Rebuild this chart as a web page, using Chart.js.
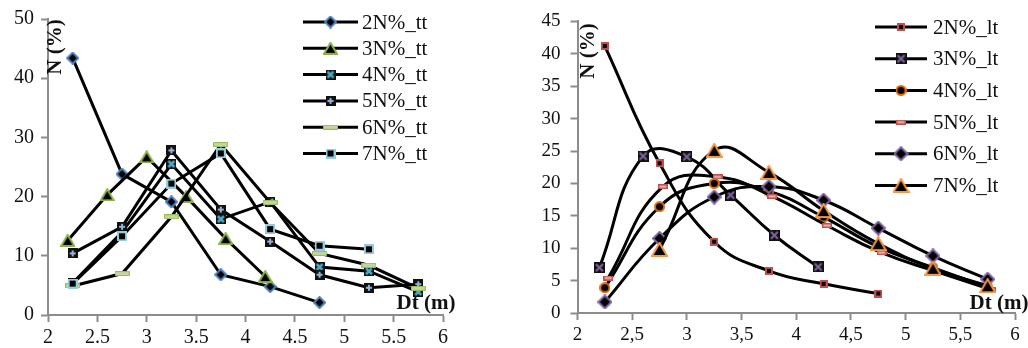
<!DOCTYPE html>
<html>
<head>
<meta charset="utf-8">
<script src="https://cdn.jsdelivr.net/npm/chart.js@4"></script>
<style>
  body { margin: 0; background: #fff; }
  #wrap { position: relative; width: 1028px; height: 348px; }
  canvas { position: absolute; top: 0; }
</style>
</head>
<body>
<div id="wrap">
  <canvas id="ttChart" width="514" height="348" style="left:0"></canvas>
  <canvas id="ltChart" width="514" height="348" style="left:514px"></canvas>
</div>
<script>
// ---- data: Dt (m) and N (%) ----
// left chart (tt)
const dt2tt = [2.25, 2.75, 3.25, 3.75, 4.25, 4.75];
const n2tt  = [43.4, 23.8, 19.1, 6.8, 4.8, 2.1];
const dt3tt = [2.2, 2.6, 3.0, 3.4, 3.8, 4.2];
const n3tt  = [12.6, 20.3, 26.7, 20.0, 12.9, 6.5];
const dt4tt = [2.25, 2.75, 3.25, 3.75, 4.25, 4.75, 5.25, 5.75];
const n4tt  = [5.4, 14.0, 25.5, 16.2, 19.1, 8.1, 7.4, 3.9];
const dt5tt = [2.25, 2.75, 3.25, 3.75, 4.25, 4.75, 5.25, 5.75];
const n5tt  = [10.4, 14.9, 27.8, 17.8, 12.4, 6.8, 4.6, 5.2];
const dt6tt = [2.25, 2.75, 3.25, 3.75, 4.25, 4.75, 5.25, 5.75];
const n6tt  = [4.9, 7.0, 16.6, 28.8, 19.0, 10.4, 8.4, 4.5];
const dt7tt = [2.25, 2.75, 3.25, 3.75, 4.25, 4.75, 5.25];
const n7tt  = [5.3, 13.3, 22.2, 27.3, 14.5, 11.7, 11.1];

// right chart (lt)
const dt2lt = [2.25, 2.75, 3.25, 3.75, 4.25, 4.75];
const n2lt  = [41.2, 23.1, 11.0, 6.5, 4.5, 3.0];
const dt3lt = [2.2, 2.6, 3.0, 3.4, 3.8, 4.2];
const n3lt  = [7.0, 24.2, 24.1, 18.2, 12.0, 7.1];
const dt4lt = [2.25, 2.75, 3.25, 3.75, 4.25, 4.75, 5.25, 5.75];
const n4lt  = [3.9, 16.4, 20.0, 18.8, 14.8, 10.2, 7.0, 4.0];
const dt5lt = [2.28, 2.78, 3.28, 3.78, 4.28, 4.78, 5.28, 5.78];
const n5lt  = [5.4, 19.5, 21.0, 18.0, 13.5, 9.3, 6.4, 3.6];
const dt6lt = [2.25, 2.75, 3.25, 3.75, 4.25, 4.75, 5.25, 5.75];
const n6lt  = [1.7, 11.5, 17.9, 19.5, 17.4, 13.1, 8.8, 5.2];
const dt7lt = [2.75, 3.25, 3.75, 4.25, 4.75, 5.25, 5.75];
const n7lt  = [9.8, 25.1, 21.7, 15.8, 10.7, 6.9, 4.2];

const labelsTT = ['2N%_tt', '3N%_tt', '4N%_tt', '5N%_tt', '6N%_tt', '7N%_tt'];
const labelsLT = ['2N%_lt', '3N%_lt', '4N%_lt', '5N%_lt', '6N%_lt', '7N%_lt'];

const serif = '"Liberation Serif", "Times New Roman", serif';

// marker glyphs drawn on small canvases, used as pointStyle
function makeMarker(shape, fill, stroke, w, h, lw) {
  const c = document.createElement('canvas');
  c.width = w; c.height = h;
  const g = c.getContext('2d');
  const m = lw / 2;
  g.fillStyle = fill;
  g.strokeStyle = stroke;
  g.lineWidth = lw;
  g.beginPath();
  if (shape == 'diamond') {
    g.moveTo(w / 2, m); g.lineTo(w - m, h / 2); g.lineTo(w / 2, h - m); g.lineTo(m, h / 2);
    g.closePath(); g.fill(); g.stroke();
  } else if (shape == 'triangle') {
    g.moveTo(w / 2, m); g.lineTo(w - m, h - m); g.lineTo(m, h - m);
    g.closePath(); g.fill(); g.stroke();
  } else if (shape == 'square') {
    g.rect(m, m, w - lw, h - lw); g.fill(); g.stroke();
  } else if (shape == 'circle') {
    g.arc(w / 2, h / 2, w / 2 - m, 0, Math.PI * 2); g.fill(); g.stroke();
  } else if (shape == 'xsquare') {
    g.fillStyle = '#111';
    g.fillRect(0, 0, w, h);
    g.moveTo(2, 2); g.lineTo(w - 2, h - 2);
    g.moveTo(w - 2, 2); g.lineTo(2, h - 2);
    g.stroke();
  } else if (shape == 'plussquare') {
    g.fillStyle = '#111';
    g.fillRect(0, 0, w, h);
    g.moveTo(w / 2, 2); g.lineTo(w / 2, h - 2);
    g.moveTo(2, h / 2); g.lineTo(w - 2, h / 2);
    g.stroke();
  } else if (shape == 'dash') {
    g.rect(m, m, w - lw, h - lw); g.fill(); g.stroke();
  }
  return c;
}

const markersTT = [
  makeMarker('diamond', '#000', '#4f81bd', 13, 13, 2),
  makeMarker('triangle', '#000', '#8db04a', 15, 13, 2),
  makeMarker('xsquare', '#000', '#4bacc6', 10, 10, 2.5),
  makeMarker('plussquare', '#000', '#95b3d7', 10, 10, 2),
  makeMarker('dash', '#c3d69b', '#9bbb59', 15, 5, 1),
  makeMarker('square', '#000', '#93cddd', 10, 10, 2)
];
const markersLT = [
  makeMarker('square', '#000', '#c0504d', 8, 8, 2),
  makeMarker('xsquare', '#000', '#8064a2', 11, 11, 2),
  makeMarker('circle', '#000', '#e46c0a', 11, 11, 2),
  makeMarker('dash', '#e6b9b8', '#c0504d', 10, 5, 1.5),
  makeMarker('diamond', '#000', '#8064a2', 15, 15, 2),
  makeMarker('triangle', '#000', '#f79646', 17, 15, 2)
];

function pts(xs, ys) {
  return xs.map((x, i) => ({ x: x, y: ys[i] }));
}

function buildSets(xsList, ysList, labels, markers, tension) {
  return xsList.map((xs, i) => ({
    label: labels[i],
    data: pts(xs, ysList[i]),
    showLine: true,
    borderColor: '#000',
    borderWidth: 3,
    tension: tension,
    pointStyle: markers[i],
    pointRadius: 6,
    order: 10 - i,
    clip: false
  }));
}

// legend drawn inside the plot, like the reference
const sideKey = {
  id: 'sideKey',
  afterDraw(chart, args, o) {
    const ctx = chart.ctx;
    ctx.save();
    chart.data.datasets.forEach((ds, i) => {
      const y = o.y0 + i * o.dy;
      ctx.strokeStyle = '#000';
      ctx.lineWidth = 3;
      ctx.beginPath();
      ctx.moveTo(o.x1, y);
      ctx.lineTo(o.x2, y);
      ctx.stroke();
      const img = ds.pointStyle;
      ctx.drawImage(img, (o.x1 + o.x2) / 2 - img.width / 2, y - img.height / 2);
      ctx.fillStyle = '#111';
      ctx.font = '21px ' + serif;
      ctx.textBaseline = 'middle';
      ctx.textAlign = 'left';
      ctx.fillText(ds.label, o.tx, y + 1);
    });
    ctx.restore();
  }
};

const axisNotes = {
  id: 'axisNotes',
  afterDraw(chart, args, o) {
    const ctx = chart.ctx;
    ctx.save();
    ctx.fillStyle = '#111';
    ctx.font = 'bold 21px ' + serif;
    ctx.textAlign = 'center';
    ctx.textBaseline = 'middle';
    ctx.fillText('Dt (m)', o.xt[0], o.xt[1]);
    ctx.translate(o.yt[0], o.yt[1]);
    ctx.rotate(-Math.PI / 2);
    ctx.fillText('N (%)', 0, 0);
    ctx.restore();
  }
};

function scales(o) {
  const axisGray = '#8c8c8c';
  return {
    x: {
      type: 'linear', min: 2, max: 6,
      border: { color: axisGray, width: 2 },
      grid: { drawOnChartArea: false, color: axisGray, tickLength: 7, tickWidth: 2 },
      ticks: { stepSize: 0.5, color: '#111', padding: 4, maxRotation: 0, autoSkip: false,
               font: { family: serif, size: o.font }, callback: o.fmt },
      afterFit: s => { s.height = o.xh; }
    },
    y: {
      min: 0, max: o.ymax,
      border: { color: axisGray, width: 2 },
      grid: { drawOnChartArea: false, color: axisGray, tickLength: 7, tickWidth: 2 },
      ticks: { stepSize: o.ystep, color: '#111', padding: o.ypad,
               font: { family: serif, size: o.font } },
      afterFit: s => { s.width = o.yw; }
    }
  };
}

new Chart(document.getElementById('ttChart'), {
  type: 'scatter',
  data: {
    datasets: buildSets([dt2tt, dt3tt, dt4tt, dt5tt, dt6tt, dt7tt],
                        [n2tt, n3tt, n4tt, n5tt, n6tt, n7tt], labelsTT, markersTT, 0)
  },
  options: {
    responsive: false,
    animation: false,
    devicePixelRatio: 1,
    layout: { padding: { top: 19, right: 71, left: 0, bottom: 0 } },
    scales: scales({ ymax: 50, ystep: 10, yw: 48, xh: 33, ypad: 7, font: 20,
                     fmt: v => String(v) }),
    plugins: {
      legend: { display: false },
      tooltip: { enabled: false },
      sideKey: { x1: 303, x2: 358, tx: 362, y0: 22, dy: 26.3 },
      axisNotes: { xt: [426, 304], yt: [56, 47] }
    }
  },
  plugins: [sideKey, axisNotes]
});

new Chart(document.getElementById('ltChart'), {
  type: 'scatter',
  data: {
    datasets: buildSets([dt2lt, dt3lt, dt4lt, dt5lt, dt6lt, dt7lt],
                        [n2lt, n3lt, n4lt, n5lt, n6lt, n7lt], labelsLT, markersLT, 0.45)
  },
  options: {
    responsive: false,
    animation: false,
    devicePixelRatio: 1,
    layout: { padding: { top: 19, right: 13, left: 0, bottom: 0 } },
    scales: scales({ ymax: 45, ystep: 5, yw: 63.5, xh: 35, ypad: 10, font: 19,
                     fmt: v => String(v).replace('.', ',') }),
    plugins: {
      legend: { display: false },
      tooltip: { enabled: false },
      sideKey: { x1: 361, x2: 413, tx: 419, y0: 27, dy: 31.7 },
      axisNotes: { xt: [485, 304], yt: [75, 51] }
    }
  },
  plugins: [sideKey, axisNotes]
});
</script>
</body>
</html>
